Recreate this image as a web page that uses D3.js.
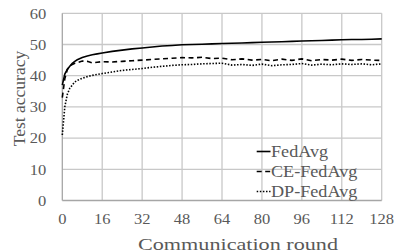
<!DOCTYPE html>
<html><head><meta charset="utf-8">
<script src="https://cdn.jsdelivr.net/npm/d3@7"></script>
<style>
body{margin:0;background:#fff;}
svg text{font-family:"Liberation Serif","Times New Roman",serif;fill:#595959;}
</style></head>
<body><svg id="c" width="397" height="252"></svg>
<script>
const rounds = [0,1,2,3,4,5,6,8,10,12,14,16,20,24,28,32,36,40,44,48,52,56,60,64,68,72,76,80,84,88,92,96,100,104,108,112,116,120,124,128];
const fedAvg = [37,40.5,42,43,44,44.6,45.1,45.8,46.3,46.7,47.0,47.3,47.8,48.2,48.6,48.9,49.2,49.5,49.7,49.9,50.0,50.1,50.2,50.3,50.4,50.5,50.6,50.7,50.8,50.9,51.0,51.1,51.2,51.3,51.4,51.5,51.6,51.6,51.7,51.8];
const ceFedAvg = [33,39,42,43,43.6,44,44.2,44.7,44.6,44.1,44.3,44.5,44.4,44.6,44.8,45,45.2,45.4,45.6,45.8,45.7,45.9,45.5,45.6,45.1,45.4,45.0,45.2,44.8,45.3,44.9,45.4,44.8,45.2,45.0,45.3,44.9,45.2,45.0,44.9];
const dpFedAvg = [21,30,34,36,37,38,38.5,39.2,39.7,40.1,40.4,40.7,41.2,41.7,42.0,42.3,42.7,43.0,43.3,43.5,43.6,43.8,43.9,44.0,43.4,43.6,43.3,43.7,43.2,43.5,43.6,43.9,43.4,43.7,43.5,43.8,43.6,43.8,43.5,43.8];
const seriesNames = ["FedAvg","CE-FedAvg","DP-FedAvg"];
const xTicks = [0,16,32,48,64,80,96,112,128];
const yTicks = [0,10,20,30,40,50,60];

const svg = d3.select("#c");
const x = d3.scaleLinear().domain([0,128]).range([62.3,381.7]);
const y = d3.scaleLinear().domain([0,60]).range([200.5,13.3]);

// grid
svg.append("g").selectAll("line.h").data(yTicks.filter(d=>d>0)).join("line")
  .attr("x1",x(0)).attr("x2",x(128)).attr("y1",d=>y(d)).attr("y2",d=>y(d))
  .attr("stroke","#c8c8c8").attr("stroke-width",1.3);
svg.append("g").selectAll("line.v").data(xTicks.filter(d=>d>0)).join("line")
  .attr("y1",y(0)).attr("y2",y(60)).attr("x1",d=>x(d)).attr("x2",d=>x(d))
  .attr("stroke","#c8c8c8").attr("stroke-width",1.3);
// axes lines
svg.append("line").attr("x1",x(0)).attr("x2",x(0)).attr("y1",y(0)).attr("y2",y(60)).attr("stroke","#a6a6a6").attr("stroke-width",1.3);
svg.append("line").attr("x1",x(0)).attr("x2",x(128)).attr("y1",y(0)).attr("y2",y(0)).attr("stroke","#a6a6a6").attr("stroke-width",1.3);

// tick labels via axes
const yAx = svg.append("g").attr("transform",`translate(${x(0)},0)`)
  .call(d3.axisLeft(y).tickValues(yTicks).tickSize(0).tickPadding(16));
yAx.select(".domain").remove();
yAx.selectAll("text").attr("font-size",15).attr("fill","#595959").attr("transform","scale(1.1,1)").attr("x",-16/1.1);
const xAx = svg.append("g").attr("transform",`translate(0,${y(0)})`)
  .call(d3.axisBottom(x).tickValues(xTicks).tickSize(0).tickPadding(13));
xAx.select(".domain").remove();
xAx.selectAll("text").attr("font-size",15).attr("fill","#595959");
xAx.selectAll(".tick text").each(function(){
  const t = d3.select(this);
  t.attr("transform","scale(1.1,1)");
});
xAx.selectAll(".tick").attr("transform",d=>`translate(${x(d)/1.1*1.1},0)`);
// undo scaling of position: put scale inside tick group
xAx.selectAll(".tick").each(function(d){
  d3.select(this).attr("transform",`translate(${x(d)},0)`);
});

// lines
const line = vals => d3.line().x((d,i)=>x(rounds[i])).y(d=>y(d))(vals);
svg.append("path").attr("d",line(dpFedAvg)).attr("fill","none").attr("stroke","#000").attr("stroke-width",1.6).attr("stroke-dasharray","1.5,1.6");
svg.append("path").attr("d",line(ceFedAvg)).attr("fill","none").attr("stroke","#000").attr("stroke-width",1.6).attr("stroke-dasharray","5,3.5");
svg.append("path").attr("d",line(fedAvg)).attr("fill","none").attr("stroke","#000").attr("stroke-width",1.6);

// legend
const dashes = [null,"5,3.5","1.5,1.6"];
const lg = svg.append("g");
seriesNames.forEach((n,i)=>{
  const yy = 151.5 + i*20;
  lg.append("line").attr("x1",256.7).attr("x2",270.5).attr("y1",yy).attr("y2",yy)
    .attr("stroke","#000").attr("stroke-width",1.6).attr("stroke-dasharray",dashes[i]);
  lg.append("text").attr("x",271/1.1).attr("y",yy+5.5).attr("font-size",16.5)
    .attr("transform","scale(1.1,1)").text(n);
});

// titles
svg.append("text").attr("x",238).attr("y",249.5).attr("text-anchor","middle")
  .attr("font-size",17).attr("textLength",200).attr("lengthAdjust","spacingAndGlyphs").text("Communication round");
svg.append("text").attr("transform","translate(25,98.5) rotate(-90)").attr("text-anchor","middle")
  .attr("font-size",17.5).text("Test accuracy");
</script></body></html>
